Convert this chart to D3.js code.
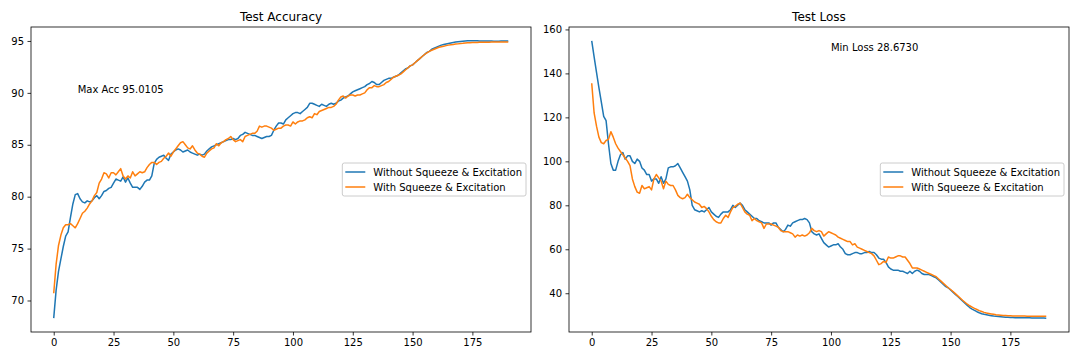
<!DOCTYPE html>
<html>
<head>
<meta charset="utf-8">
<script src="https://cdn.jsdelivr.net/npm/d3@7"></script>
<style>
  body { margin: 0; background: #fff; }
  svg { display: block; font-family: "DejaVu Sans", sans-serif; }
</style>
</head>
<body>
<div class="viewbox"></div>
<script>
// epochs 0..190
const epochs = d3.range(191);

// test accuracy
const accNoSE = [
  68.3, 71.0, 72.8, 74.0, 75.2, 76.2, 76.6, 78.0, 79.3, 80.2,
  80.3, 79.8, 79.5, 79.4, 79.6, 79.5, 79.6, 79.9, 80.1, 79.8,
  80.1, 80.5, 80.6, 80.8, 80.9, 81.3, 81.7, 81.6, 81.5, 81.9,
  81.4, 81.8, 81.3, 80.9, 80.9, 80.9, 80.7, 81.0, 81.4, 81.6,
  81.6, 82.0, 83.2, 83.6, 83.8, 83.9, 84.0, 83.7, 83.5, 84.1,
  84.3, 84.5, 84.6, 84.5, 84.3, 84.4, 84.5, 84.3, 84.2, 84.1,
  84.0, 84.1, 84.0, 84.1, 84.4, 84.6, 84.8, 84.9, 85.0, 85.1,
  85.2, 85.3, 85.4, 85.5, 85.5, 85.6, 85.5, 85.6, 85.9, 86.0,
  86.2, 86.1, 86.0, 85.9, 85.9, 85.8, 85.7, 85.6, 85.7, 85.8,
  85.8, 85.9, 86.4, 86.8, 87.1, 87.1, 87.0, 87.4, 87.6, 87.8,
  88.0, 88.1, 88.1, 88.0, 88.2, 88.4, 88.6, 89.0, 89.0, 88.9,
  88.8, 88.7, 88.9, 88.8, 88.7, 88.9, 89.0, 88.9, 89.0, 89.2,
  89.3, 89.5, 89.6, 89.7, 89.9, 90.1, 90.2, 90.3, 90.4, 90.5,
  90.6, 90.8, 90.9, 91.1, 91.0, 90.8, 90.8, 91.0, 91.2, 91.3,
  91.4, 91.4, 91.5, 91.6, 91.7, 91.9, 92.1, 92.3, 92.4, 92.6,
  92.7, 92.9, 93.1, 93.3, 93.5, 93.7, 93.9, 94.0, 94.2, 94.3,
  94.4, 94.5, 94.6, 94.65, 94.7, 94.75, 94.8, 94.85, 94.9, 94.93,
  94.96, 94.98, 95.0, 95.01, 95.01, 95.01, 95.01, 95.01, 95.0, 95.0,
  95.0, 95.0, 94.99, 94.99, 94.98, 94.98, 94.98, 94.99, 95.0, 95.0, 95.0
];
const accSE = [
  70.7, 73.5, 75.3, 76.3, 77.0, 77.3, 77.3, 77.4, 77.2, 77.0,
  77.4, 77.9, 78.4, 78.6, 78.9, 79.3, 79.6, 80.1, 80.4, 81.3,
  81.7, 82.3, 82.2, 81.8, 82.3, 82.3, 82.1, 82.4, 82.7, 82.0,
  81.7, 82.0, 81.8, 82.4, 82.0, 82.2, 82.4, 82.3, 82.4, 82.8,
  83.1, 83.3, 83.3, 83.1, 83.3, 83.4, 83.7, 83.9, 84.2, 83.9,
  84.3, 84.6, 84.9, 85.2, 85.3, 85.0, 84.7, 84.6, 84.9, 84.5,
  84.2, 84.1, 83.9, 83.8, 84.2, 84.4, 84.6, 84.7, 85.1, 84.9,
  85.2, 85.3, 85.5, 85.6, 85.8, 85.5, 85.3, 85.4, 85.5, 85.3,
  85.8, 85.9, 86.0, 86.1, 86.1, 86.3, 86.8, 86.7, 86.8, 86.8,
  86.7, 86.6, 86.4, 86.5, 86.6, 86.6, 86.8, 86.9, 86.9, 86.8,
  87.2, 87.0, 87.2, 87.3, 87.3, 87.4, 87.6, 87.7, 87.6, 88.0,
  87.9, 88.2, 88.3, 88.4, 88.5, 88.6, 88.6, 88.7, 88.9, 89.3,
  89.6, 89.7, 89.5, 89.7, 89.8, 89.8, 89.7, 89.8, 89.8, 89.9,
  90.0, 90.3, 90.5, 90.5, 90.7, 90.6, 90.6, 90.7, 90.8, 91.0,
  91.1, 91.3, 91.5, 91.6, 91.7, 91.8, 92.0, 92.2, 92.4, 92.6,
  92.7, 92.9, 93.1, 93.3, 93.5, 93.7, 93.85, 94.0, 94.1, 94.2,
  94.3, 94.4, 94.45, 94.5, 94.55, 94.6, 94.63, 94.66, 94.7, 94.72,
  94.75, 94.77, 94.8, 94.82, 94.83, 94.85, 94.86, 94.86, 94.87, 94.87,
  94.88, 94.88, 94.88, 94.89, 94.89, 94.89, 94.9, 94.9, 94.9, 94.9, 94.9
];

// test loss
const lossNoSE = [
  154.8, 147.5, 140.5, 133.5, 127, 120.5, 118.5, 108, 99, 96,
  96, 100, 103, 104, 101, 102.5, 102.5, 100, 99, 101,
  100, 97, 96, 94, 94, 91, 92, 92, 90, 93,
  90, 92, 97, 97.5, 97.5, 98, 99, 97, 95, 93,
  91, 87, 80, 78, 77.5, 77, 77.5, 77, 78, 79,
  77, 76, 75, 74.5, 76, 77, 77, 77, 78, 80,
  79, 80, 81, 80, 78, 77, 76, 75, 74, 74,
  73, 72.5, 72, 72, 72, 71, 72, 72, 70, 69,
  68, 69, 71, 70.5, 72, 72.5, 73, 73.5, 73.5, 74,
  73.5, 72, 68, 67, 66.5, 67, 65, 63, 62, 61,
  61.5, 62, 62, 62.5, 61, 60, 58, 57.5, 57.5, 58,
  58.5, 58.5, 58, 58, 58.5, 58.5, 59, 58.5, 58.5, 57.5,
  56, 55.5, 55.5, 54, 52, 51, 50.5, 50.5, 50.5, 50,
  50, 49.5, 49, 50, 49, 50, 50.5, 50, 49, 48.5,
  48.5, 48.5, 48, 47.5, 47, 46, 45, 44, 43, 42.5,
  41.5, 40.5, 39.5, 38.5, 37.5, 36.5, 35.5, 34.5, 33.5, 32.8,
  32.2, 31.6, 31.1, 30.7, 30.4, 30.2, 30.0, 29.8, 29.6, 29.5,
  29.4, 29.3, 29.2, 29.1, 29.05, 29.0, 28.95, 28.9, 28.9, 28.85,
  28.85, 28.8, 28.8, 28.8, 28.75, 28.75, 28.7, 28.7, 28.7, 28.68, 28.673
];
const lossSE = [
  135.5, 122, 116, 111, 108.5, 108, 109.5, 110, 113.5, 111,
  108, 106, 104.5, 103, 101.5, 100, 98, 92, 88.5, 86,
  85.5, 89, 87.5, 88, 88.5, 87, 92, 94, 92.5, 91,
  87.5, 91, 89.5, 89, 89, 87, 84.5, 83.5, 83, 83.5,
  85, 83.5, 82.5, 81.5, 81, 80.5, 79, 79.5, 78.5, 77,
  75, 73.5, 72.5, 72, 72, 74, 75.5, 74.5, 77, 79,
  79.5, 80.5, 81, 79, 77, 76, 75.5, 73, 74, 73,
  72.5, 72, 69.5, 71.5, 71.5, 71.5, 71, 70.5, 70, 68.5,
  68, 68, 68, 67.5, 67, 65.5, 66.5, 66, 66.5, 66,
  66.5, 67.5, 69.5, 68.5, 68, 68.5, 68, 66, 67, 68,
  67.5, 67, 66.5, 65.5, 65, 64.5, 64, 63.5, 63.5, 62,
  62.5, 61, 60.5, 60, 59.5, 59, 58.5, 58, 57, 55,
  53, 53.5, 54.5, 54, 56.5, 56, 56, 56.5, 57, 57,
  56.5, 56.5, 55, 53.5, 51.5, 51.5, 51.5, 51, 50.5, 50,
  49.5, 49, 48.5, 48, 47.5, 46.5, 45.5, 44.5, 43.5, 42.5,
  41.7, 40.8, 39.8, 38.8, 37.8, 36.8, 35.9, 35.0, 34.3, 33.7,
  33.1, 32.6, 32.1, 31.7, 31.3, 31.0, 30.8, 30.6, 30.4, 30.2,
  30.1, 30.0, 29.9, 29.85, 29.8, 29.75, 29.7, 29.65, 29.6, 29.6,
  29.6, 29.6, 29.55, 29.55, 29.55, 29.5, 29.5, 29.5, 29.5, 29.5, 29.5
];

const seriesNames = ["Without Squeeze & Excitation", "With Squeeze & Excitation"];
const xTicks = [0, 25, 50, 75, 100, 125, 150, 175];
const accTicks = [70, 75, 80, 85, 90, 95];
const lossTicks = [40, 60, 80, 100, 120, 140, 160];

const COLORS = ["#1f77b4", "#ff7f0e"];
const svg_width = 1080;
const svg_height = 360;

let svg = d3.select(".viewbox")
  .append("svg")
  .attr("width", svg_width)
  .attr("height", svg_height);

svg.append("rect").attr("width", svg_width).attr("height", svg_height).attr("fill", "#fff");

function drawPanel(p) {
  // matplotlib style 5% margins on the data
  let xDom = [epochs[0], epochs[epochs.length - 1]];
  let xPad = (xDom[1] - xDom[0]) * 0.05;
  let all = p.series[0].concat(p.series[1]);
  let yDom = d3.extent(all);
  let yPad = (yDom[1] - yDom[0]) * 0.05;

  let x = d3.scaleLinear().domain([xDom[0] - xPad, xDom[1] + xPad]).range([p.left, p.left + p.w]);
  let y = d3.scaleLinear().domain([yDom[0] - yPad, yDom[1] + yPad]).range([p.top + p.h, p.top]);

  let g = svg.append("g");

  // lines
  let line = d3.line().x((d, i) => x(epochs[i])).y(d => y(d));
  p.series.forEach((s, i) => {
    g.append("path")
      .attr("d", line(s))
      .attr("fill", "none")
      .attr("stroke", COLORS[i])
      .attr("stroke-width", 1.5)
      .attr("stroke-linejoin", "round");
  });

  // axes
  let xa = g.append("g")
    .attr("transform", `translate(0,${p.top + p.h})`)
    .call(d3.axisBottom(x).tickValues(xTicks).tickSize(3.5).tickPadding(3.5));
  let ya = g.append("g")
    .attr("transform", `translate(${p.left},0)`)
    .call(d3.axisLeft(y).tickValues(p.yTicks).tickSize(3.5).tickPadding(3.5));
  [xa, ya].forEach(a => {
    a.select(".domain").remove();
    a.selectAll("line").attr("stroke", "#000").attr("stroke-width", 0.8);
    a.selectAll("text").attr("font-family", "DejaVu Sans").attr("font-size", 10).attr("fill", "#000");
  });

  // frame (all 4 spines)
  g.append("rect")
    .attr("x", p.left).attr("y", p.top)
    .attr("width", p.w).attr("height", p.h)
    .attr("fill", "none").attr("stroke", "#000").attr("stroke-width", 0.8);

  // title
  g.append("text")
    .attr("x", p.left + p.w / 2).attr("y", p.top - 6.5)
    .attr("text-anchor", "middle")
    .attr("font-size", 12)
    .text(p.title);

  // annotation
  g.append("text")
    .attr("x", x(p.note[0])).attr("y", y(p.note[1]))
    .attr("font-size", 10)
    .text(p.note[2]);

  // legend, center right
  let leg = g.append("g");
  let box = leg.append("rect");
  let texts = seriesNames.map((name, i) => leg.append("text")
    .attr("font-size", 10)
    .attr("dy", "0.35em")
    .text(name));
  let textW = d3.max(texts, t => t.node().getComputedTextLength());
  let boxW = 3 + 20 + 8 + textW + 4;
  let boxH = 33;
  let bx = p.left + p.w - 5 - boxW;
  let by = p.top + p.h / 2 - boxH / 2;
  box.attr("x", bx).attr("y", by).attr("width", boxW).attr("height", boxH)
    .attr("rx", 2)
    .attr("fill", "#fff").attr("fill-opacity", 0.8)
    .attr("stroke", "#cccccc").attr("stroke-width", 1);
  seriesNames.forEach((name, i) => {
    let cy = by + 9 + i * 15;
    leg.append("line")
      .attr("x1", bx + 3).attr("x2", bx + 23)
      .attr("y1", cy).attr("y2", cy)
      .attr("stroke", COLORS[i]).attr("stroke-width", 1.5);
    texts[i].attr("x", bx + 31).attr("y", cy);
  });
}

drawPanel({
  left: 31, top: 27, w: 500, h: 305,
  title: "Test Accuracy",
  series: [accNoSE, accSE],
  yTicks: accTicks,
  note: [10, 90, "Max Acc 95.0105"]
});

drawPanel({
  left: 569, top: 27, w: 500, h: 305,
  title: "Test Loss",
  series: [lossNoSE, lossSE],
  yTicks: lossTicks,
  note: [100, 150, "Min Loss 28.6730"]
});
</script>
</body>
</html>
